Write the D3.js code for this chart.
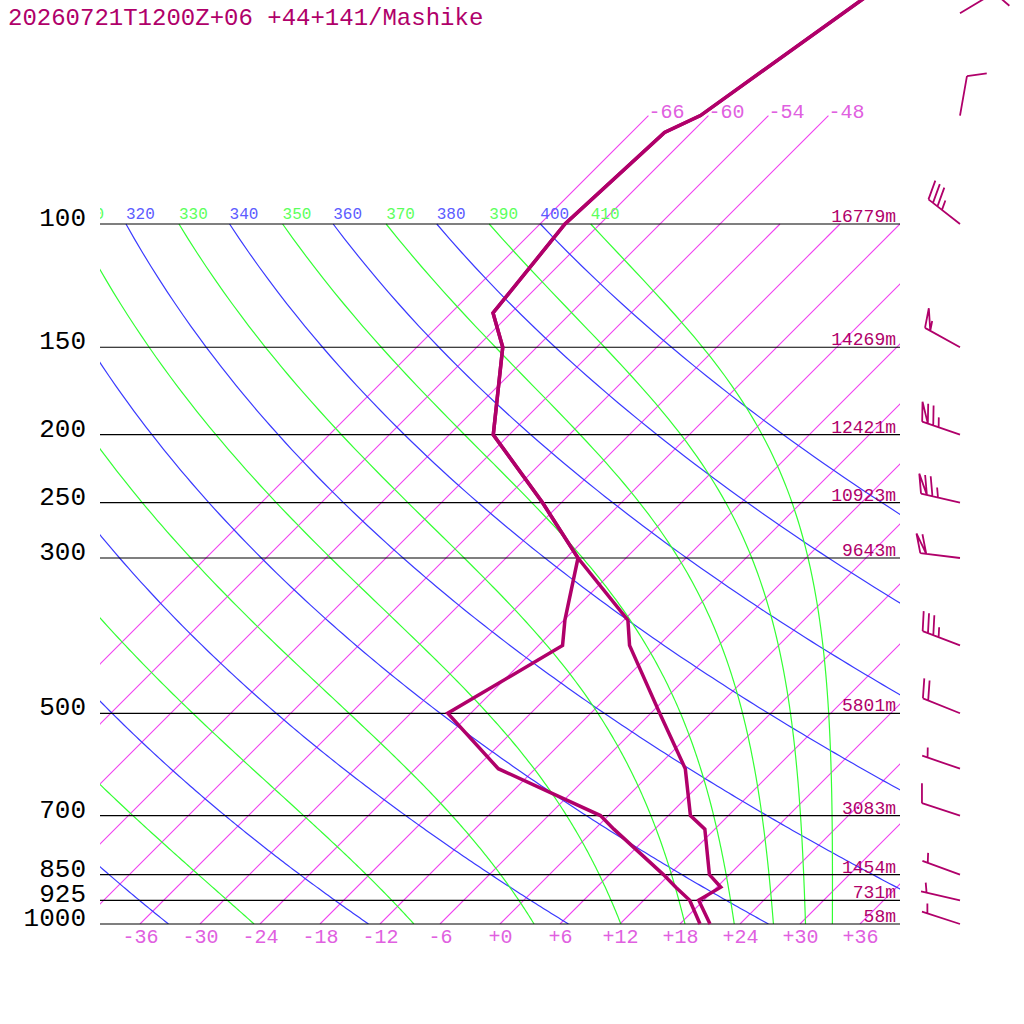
<!DOCTYPE html>
<meta charset="utf-8">
<title>Mashike sounding</title>
<style>
html, body {
    margin: 0;
    background: #fff;
}
svg {
    display: block;
}
text {
    font-family: "Liberation Mono", "DejaVu Sans Mono", monospace;
}
</style>
<body>
<script src="https://cdn.jsdelivr.net/npm/d3@7"></script>
<script>
var title = "20260721T1200Z+06 +44+141/Mashike";

// sounding
var levels = [1000, 925, 886, 850, 732, 700, 600, 500, 400, 368, 300, 250, 200, 150, 134, 100, 74, 70, 40],
    temps  = [21.0, 17.5, 18.4, 16.0, 11.0, 8.2, 3.0, -5.1, -14.9, -17.6, -28.8, -37.9, -49.6, -57.4, -61.8, -63.5, -62.7, -60.8, -54.1],
    dewpts = [20.0, 16.6, 13.9, 11.4, 1.9, -0.8, -15.7, -26.3, -21.6, -23.9, -28.8, -37.9, -49.6, -57.4, -61.8, -63.5, -62.7, -60.8, -54.1];

// labelled pressure levels and their heights
var pLabels = [100, 150, 200, 250, 300, 500, 700, 850, 925, 1000],
    heights = [16779, 14269, 12421, 10923, 9643, 5801, 3083, 1454, 731, 58];

// winds (direction in degrees, speed in knots)
var windP   = [50, 70, 100, 150, 200, 250, 300, 400, 500, 600, 700, 850, 925, 1000],
    windDir = [59, 10, 308, 299, 289, 283, 277, 291, 292, 289, 288, 290, 283, 288],
    windSpd = [10, 10, 35, 55, 75, 75, 60, 35, 20, 5, 10, 5, 5, 5];

// background lines
var isoTemps    = [-66, -60, -54, -48, -42, -36, -30, -24, -18, -12, -6, 0, 6, 12, 18, 24, 30, 36],
    isoTopTemps = [-66, -60, -54, -48],
    dryThetas   = [240, 260, 280, 300, 320, 340, 360, 380, 400],
    moistThetas = [250, 270, 290, 310, 330, 350, 370, 390, 410],
    tempTicks   = [-36, -30, -24, -18, -12, -6, 0, 6, 12, 18, 24, 30, 36];

var width = 1024,
    height = 1024,
    left = 100,
    right = 900,
    pTop = 100,
    pIsoTop = 70;

var traceColor = "#b0006a",
    isoColor = "#f040f0",
    isoText = "#e060e0",
    dryColor = "#3a3aff",
    dryText = "#5c5cff",
    moistColor = "#33ff33",
    moistText = "#5cff5c";

var y = d3.scaleLog().domain([1000, 100]).range([924, 224]);
var xT = d3.scaleLinear().domain([-40, 40]).range([left, right]);

// 45 degree skew
function X(t, p) { return xT(t) + (y(1000) - y(p)); }

function esat(tc) { return 6.112 * Math.exp(17.67 * tc / (tc + 243.5)); }

// Bolton (1980) equivalent potential temperature of saturated air
function thetaE(tk, p) {
    var e = esat(tk - 273.15);
    if (e > p * 0.5) return 1e4;
    var r = 0.622 * e / (p - e);
    return tk * Math.pow(1000 / p, 0.2854 * (1 - 0.28 * r)) *
        Math.exp((3.376 / tk - 0.00254) * r * 1000 * (1 + 0.81 * r));
}

function moistT(te, p) {
    var lo = 150, hi = 340;
    for (var i = 0; i < 50; i++) {
        var mid = (lo + hi) / 2;
        if (thetaE(mid, p) > te) hi = mid; else lo = mid;
    }
    return (lo + hi) / 2 - 273.15;
}

function dryT(th, p) { return th * Math.pow(p / 1000, 0.2857) - 273.15; }

var pSteps = d3.range(1000, pTop - 1, -5);

var svg = d3.select("body").append("svg")
    .attr("width", width)
    .attr("height", height)
    .style("background", "#fff");

svg.append("clipPath").attr("id", "plot")
    .append("rect").attr("x", left).attr("y", 0).attr("width", right - left).attr("height", y(1000));

var grid = svg.append("g").attr("clip-path", "url(#plot)");

var line = d3.line().x(function(d) { return d[0]; }).y(function(d) { return d[1]; });

// isotherms
grid.selectAll(".iso")
    .data(isoTemps)
    .enter().append("path")
    .attr("class", "iso")
    .style("fill", "none")
    .style("stroke", isoColor)
    .style("stroke-width", "1.1px")
    .attr("d", function(t) {
        var top = isoTopTemps.indexOf(t) >= 0 ? pIsoTop : pTop;
        return line([[X(t, 1000), y(1000)], [X(t, top), y(top)]]);
    });

// dry adiabats
grid.selectAll(".dry")
    .data(dryThetas)
    .enter().append("path")
    .attr("class", "dry")
    .style("fill", "none")
    .style("stroke", dryColor)
    .style("stroke-width", "1.2px")
    .attr("d", function(th) {
        return line(pSteps.map(function(p) { return [X(dryT(th, p), p), y(p)]; }));
    });

// moist adiabats
grid.selectAll(".moist")
    .data(moistThetas)
    .enter().append("path")
    .attr("class", "moist")
    .style("fill", "none")
    .style("stroke", moistColor)
    .style("stroke-width", "1.2px")
    .attr("d", function(te) {
        return line(pSteps.map(function(p) { return [X(moistT(te, p), p), y(p)]; }));
    });

// adiabat labels along the 100 hPa line (only those near the plot)
var labels = dryThetas.map(function(th) { return { v: th, x: X(dryT(th, pTop), pTop), c: dryText }; })
    .concat(moistThetas.map(function(te) { return { v: te, x: X(moistT(te, pTop), pTop), c: moistText }; }))
    .filter(function(d) { return d.x > 60; });

grid.selectAll(".thlabel")
    .data(labels)
    .enter().append("text")
    .attr("class", "thlabel")
    .attr("x", function(d) { return d.x; })
    .attr("y", y(pTop) - 5)
    .attr("fill", function(d) { return d.c; })
    .style("font-size", "16px")
    .text(function(d) { return d.v; });

// isotherm labels above the plot
svg.selectAll(".isolabel")
    .data(isoTopTemps)
    .enter().append("text")
    .attr("class", "isolabel")
    .attr("x", function(t) { return X(t, pIsoTop); })
    .attr("y", y(pIsoTop) + 2)
    .attr("fill", isoText)
    .style("font-size", "20px")
    .text(function(t) { return t; });

// pressure lines
svg.selectAll(".pline")
    .data(pLabels)
    .enter().append("line")
    .attr("class", "pline")
    .attr("x1", left)
    .attr("x2", right)
    .attr("y1", function(p) { return y(p); })
    .attr("y2", function(p) { return y(p); })
    .style("stroke", "#000")
    .style("stroke-width", "1.2px");

svg.selectAll(".plabel")
    .data(pLabels)
    .enter().append("text")
    .attr("class", "plabel")
    .attr("x", 86)
    .attr("y", function(p) { return y(p) + 2; })
    .attr("text-anchor", "end")
    .attr("fill", "#000")
    .style("font-size", "26px")
    .text(function(p) { return p; });

svg.selectAll(".hlabel")
    .data(pLabels)
    .enter().append("text")
    .attr("class", "hlabel")
    .attr("x", 896)
    .attr("y", function(p) { return y(p) - 2; })
    .attr("text-anchor", "end")
    .attr("fill", traceColor)
    .style("font-size", "18px")
    .text(function(p, i) { return heights[i] + "m"; });

// temperature axis along 1000 hPa
var axis = svg.append("g")
    .attr("transform", "translate(0," + y(1000) + ")")
    .call(d3.axisBottom(xT)
        .tickValues(tempTicks)
        .tickSize(0)
        .tickPadding(0)
        .tickFormat(function(t) { return (t < 0 ? "-" : "+") + Math.abs(t); }));
axis.select(".domain").remove();
axis.selectAll("text")
    .attr("y", 18.5)
    .attr("dy", null)
    .attr("fill", isoText)
    .style("font-family", "Liberation Mono, DejaVu Sans Mono, monospace")
    .style("font-size", "20px");

// temperature and dew point
var sounding = d3.line()
    .x(function(d) { return X(d[1], d[0]); })
    .y(function(d) { return y(d[0]); });

[dewpts, temps].forEach(function(series) {
    svg.append("path")
        .datum(levels.map(function(p, i) { return [p, series[i]]; }))
        .style("fill", "none")
        .style("stroke", traceColor)
        .style("stroke-width", "3.5px")
        .attr("d", sounding);
});

// wind barbs
var STAFF = 40, FULL = 20, HALF = 10, STEP = 5.7, PENNANT = 6, TILT = 18 * Math.PI / 180;

function barb(p, dir, spd) {
    var a = dir * Math.PI / 180,
        bx = 960, by = y(p),
        ux = Math.sin(a), uy = -Math.cos(a),
        tx = bx + STAFF * ux, ty = by + STAFF * uy,
        px = -uy, py = ux,
        dx = Math.cos(TILT) * px + Math.sin(TILT) * ux,
        dy = Math.cos(TILT) * py + Math.sin(TILT) * uy,
        path = d3.path(),
        pos = 0,
        n50 = Math.floor(spd / 50),
        n10 = Math.floor((spd % 50) / 10),
        n5 = (spd % 10) >= 5 ? 1 : 0;

    path.moveTo(bx, by);
    path.lineTo(tx, ty);

    function at(s) { return [tx - s * ux, ty - s * uy]; }

    for (var i = 0; i < n50; i++) {
        var A = at(pos), B = at(pos + PENNANT);
        path.moveTo(A[0], A[1]);
        path.lineTo(A[0] + FULL * dx, A[1] + FULL * dy);
        path.lineTo(B[0], B[1]);
        pos += PENNANT;
    }
    for (var j = 0; j < n10; j++) {
        var F = at(pos);
        path.moveTo(F[0], F[1]);
        path.lineTo(F[0] + FULL * dx, F[1] + FULL * dy);
        pos += STEP;
    }
    if (n5) {
        if (n50 + n10 === 0) pos = STEP;
        var H = at(pos);
        path.moveTo(H[0], H[1]);
        path.lineTo(H[0] + HALF * dx, H[1] + HALF * dy);
    }
    return path.toString();
}

svg.selectAll(".barb")
    .data(windP)
    .enter().append("path")
    .attr("class", "barb")
    .style("fill", "none")
    .style("stroke", traceColor)
    .style("stroke-width", "1.8px")
    .attr("d", function(p, i) { return barb(p, windDir[i], windSpd[i]); });

// title
svg.append("text")
    .attr("x", 8)
    .attr("y", 25)
    .attr("fill", traceColor)
    .style("font-size", "24px")
    .text(title);
</script>
